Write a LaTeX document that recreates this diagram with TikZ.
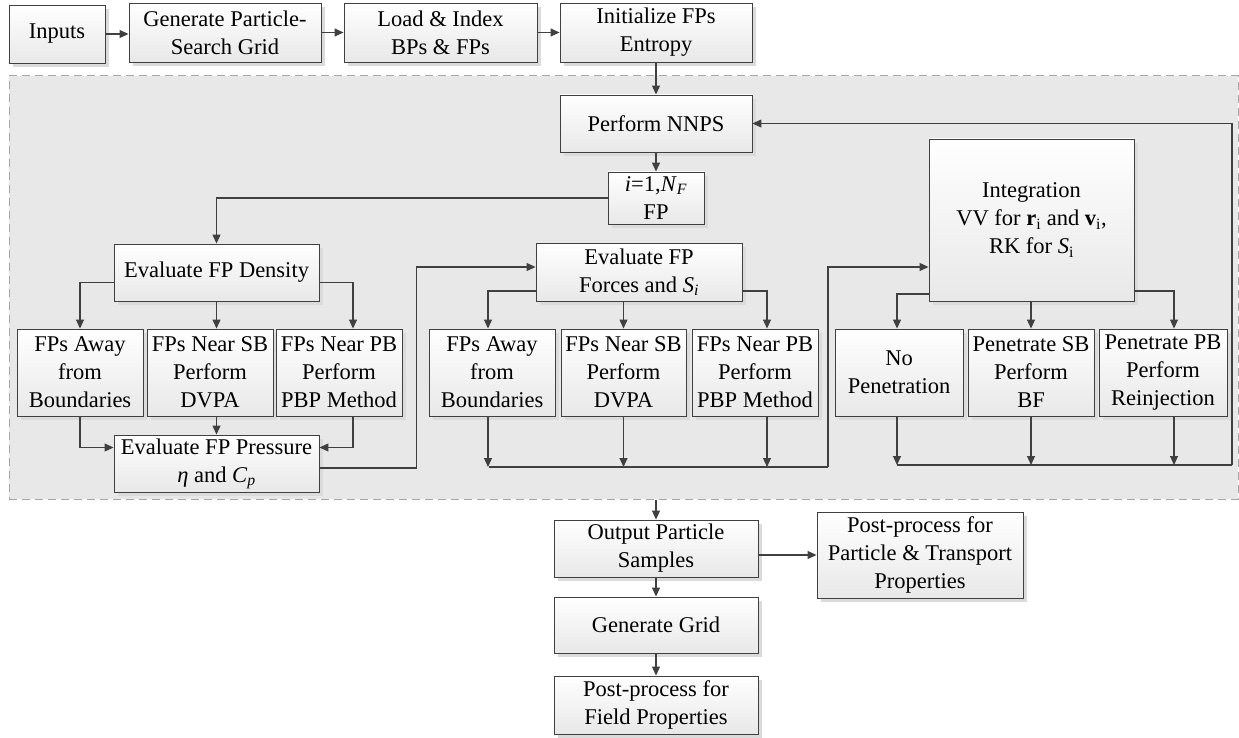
\documentclass[tikz,border=0pt]{standalone}
\usepackage{fontspec}
\setmainfont{Liberation Serif}
\newfontfamily\boxfont{Liberation Serif}
\usetikzlibrary{positioning}
\usetikzlibrary{arrows.meta}
\usetikzlibrary{calc}
\usetikzlibrary{shadows}

\begin{document}
\begin{tikzpicture}[x=1pt, y=-1pt,
    box/.style={draw=black!75, line width=0.9pt, top color=white, bottom color=black!9,
      drop shadow={shadow xshift=4pt, shadow yshift=-4pt, fill=black!14, opacity=1},
      align=center, inner sep=0pt, font=\boxfont\fontsize{22.5}{28}\selectfont},
    flow/.style={draw=black!75, line width=1.1pt, -{Triangle[length=9pt, width=8pt]}},
    wire/.style={draw=black!75, line width=1.1pt}]
  \useasboundingbox (0,0) rectangle (1239,738);

  % Dashed frame of the time loop
  \node (loopreg) [draw=black!35, line width=1pt, dash pattern=on 8pt off 5pt, fill=black!9,
    minimum width=1229pt, minimum height=423pt, inner sep=0pt] at (623.5,287.5) {};

  % Set-up chain
  \node[box, minimum width=96pt, minimum height=58pt] (inputs) at (57,34) {Inputs};
  \node[box, minimum width=192pt, minimum height=59pt] (gengrid) at (225,32.5) {Generate Particle-\\Search Grid};
  \node[box, minimum width=193pt, minimum height=59pt] (loadidx) at (440.5,32.5) {Load \& Index\\BPs \& FPs};
  \node[box, minimum width=192pt, minimum height=59pt] (initfp) at (656,32.5) {Initialize FPs\\Entropy};

  % Loop over the particles
  \node[box, minimum width=192pt, minimum height=57pt] (nnps) at (656,123.5) {Perform NNPS};
  \node[box, minimum width=96pt, minimum height=52pt] (loopfp) at (656,198) {\textit{i}=1,\textit{N}\textsubscript{\textit{F}}\\FP};

  % Density and pressure
  \node[box, minimum width=205pt, minimum height=57pt] (density) at (216.5,272.5) {Evaluate FP Density};
  \node[box, minimum width=126pt, minimum height=87pt] (dAway) at (80,372.5) {FPs Away\\from\\Boundaries};
  \node[box, minimum width=126pt, minimum height=87pt] (dSB) at (210,372.5) {FPs Near SB\\Perform\\DVPA};
  \node[box, minimum width=126pt, minimum height=87pt] (dPB) at (339,372.5) {FPs Near PB\\Perform\\PBP Method};
  \node[box, minimum width=205pt, minimum height=57pt] (pressure) at (216.5,463.5) {Evaluate FP Pressure\\\textit{η} and \textit{C}\textsubscript{\textit{p}}};

  % Forces
  \node[box, minimum width=206pt, minimum height=58pt] (forces) at (639,272) {Evaluate FP\\Forces and \textit{S}\textsubscript{\textit{i}}};
  \node[box, minimum width=126pt, minimum height=87pt] (fAway) at (492,372.5) {FPs Away\\from\\Boundaries};
  \node[box, minimum width=125pt, minimum height=87pt] (fSB) at (623.5,372.5) {FPs Near SB\\Perform\\DVPA};
  \node[box, minimum width=126pt, minimum height=87pt] (fPB) at (755,372.5) {FPs Near PB\\Perform\\PBP Method};

  % Integration
  \node[box, minimum width=205pt, minimum height=162pt] (integ) at (1031.5,220) {Integration\\VV for \textbf{r}\textsubscript{i} and \textbf{v}\textsubscript{i},\\RK for \textit{S}\textsubscript{i}};
  \node[box, minimum width=128pt, minimum height=87pt] (noPen) at (899,372.5) {No\\Penetration};
  \node[box, minimum width=126pt, minimum height=87pt] (penSB) at (1031,372.5) {Penetrate SB\\Perform\\BF};
  \node[box, minimum width=128pt, minimum height=87pt] (penPB) at (1163,372.5) {Penetrate PB\\Perform\\Reinjection};

  % Output
  \node[box, minimum width=204pt, minimum height=57pt] (output) at (656,548.5) {Output Particle\\Samples};
  \node[box, minimum width=206pt, minimum height=86pt] (postPT) at (920,555) {Post-process for\\Particle \& Transport\\Properties};
  \node[box, minimum width=204pt, minimum height=56pt] (gengrid2) at (656,625) {Generate Grid};
  \node[box, minimum width=204pt, minimum height=58pt] (postField) at (656,705) {Post-process for\\Field Properties};

  % Bus lines
  \coordinate (fbus) at (489,467);
  \coordinate (fup) at (828,467);
  \coordinate (ibus) at (897,465);
  \coordinate (iup) at (1232,465);

  \draw[flow] (inputs.east) -- (inputs.east -| gengrid.west);
  \draw[flow] (gengrid.east) -- (loadidx.west);
  \draw[flow] (loadidx.east) -- (initfp.west);
  \draw[flow] (initfp.south) -- (nnps.north);
  \draw[flow] (nnps.south) -- (loopfp.north);
  \draw[flow] (loopfp.west) -| (density.north);

  \draw[flow] ([yshift=-10pt]density.west) -| (dAway.north);
  \draw[flow] (density.south) -- (density.south |- dSB.north);
  \draw[flow] ([yshift=-10pt]density.east) -| ([xshift=14pt]dPB.north);
  \draw[flow] (dAway.south) |- ([yshift=16pt]pressure.west);
  \draw[flow] (pressure.north |- dSB.south) -- (pressure.north);
  \draw[flow] ([xshift=14pt]dPB.south) |- ([yshift=16pt]pressure.east);
  \draw[flow] ([yshift=-4.5pt]pressure.east) -- ++(97,0) |- ([yshift=5pt]forces.west);

  \draw[flow] ([yshift=-19pt]forces.west) -| ([xshift=-4pt]fAway.north);
  \draw[flow] (fSB.north |- forces.south) -- (fSB.north);
  \draw[flow] ([yshift=-19pt]forces.east) -| ([xshift=12pt]fPB.north);
  \foreach \b/\s in {fAway/-4, fSB/0, fPB/12}
    \draw[flow] ([xshift=\s pt]\b.south) -- ([xshift=\s pt]\b.south |- fbus);
  \draw[wire] (fbus) -- (fup);
  \draw[flow] (fup) |- ([yshift=-47pt]integ.west);

  \draw[flow] ([yshift=-74pt]integ.west) -| ([xshift=-2pt]noPen.north);
  \draw[flow] (penSB.north |- integ.south) -- (penSB.north);
  \draw[flow] ([yshift=-71pt]integ.east) -| ([xshift=11pt]penPB.north);
  \foreach \b/\s in {noPen/-2, penSB/0, penPB/11}
    \draw[flow] ([xshift=\s pt]\b.south) -- ([xshift=\s pt]\b.south |- ibus);
  \draw[wire] (ibus) -- (iup);
  \draw[flow] (iup) |- (nnps.east);

  \draw[flow] (output.north |- loopreg.south) -- (output.north);
  \draw[flow] (output.east |- postPT.west) -- (postPT.west);
  \draw[flow] (output.south) -- (gengrid2.north);
  \draw[flow] (gengrid2.south) -- (postField.north);
\end{tikzpicture}
\end{document}
